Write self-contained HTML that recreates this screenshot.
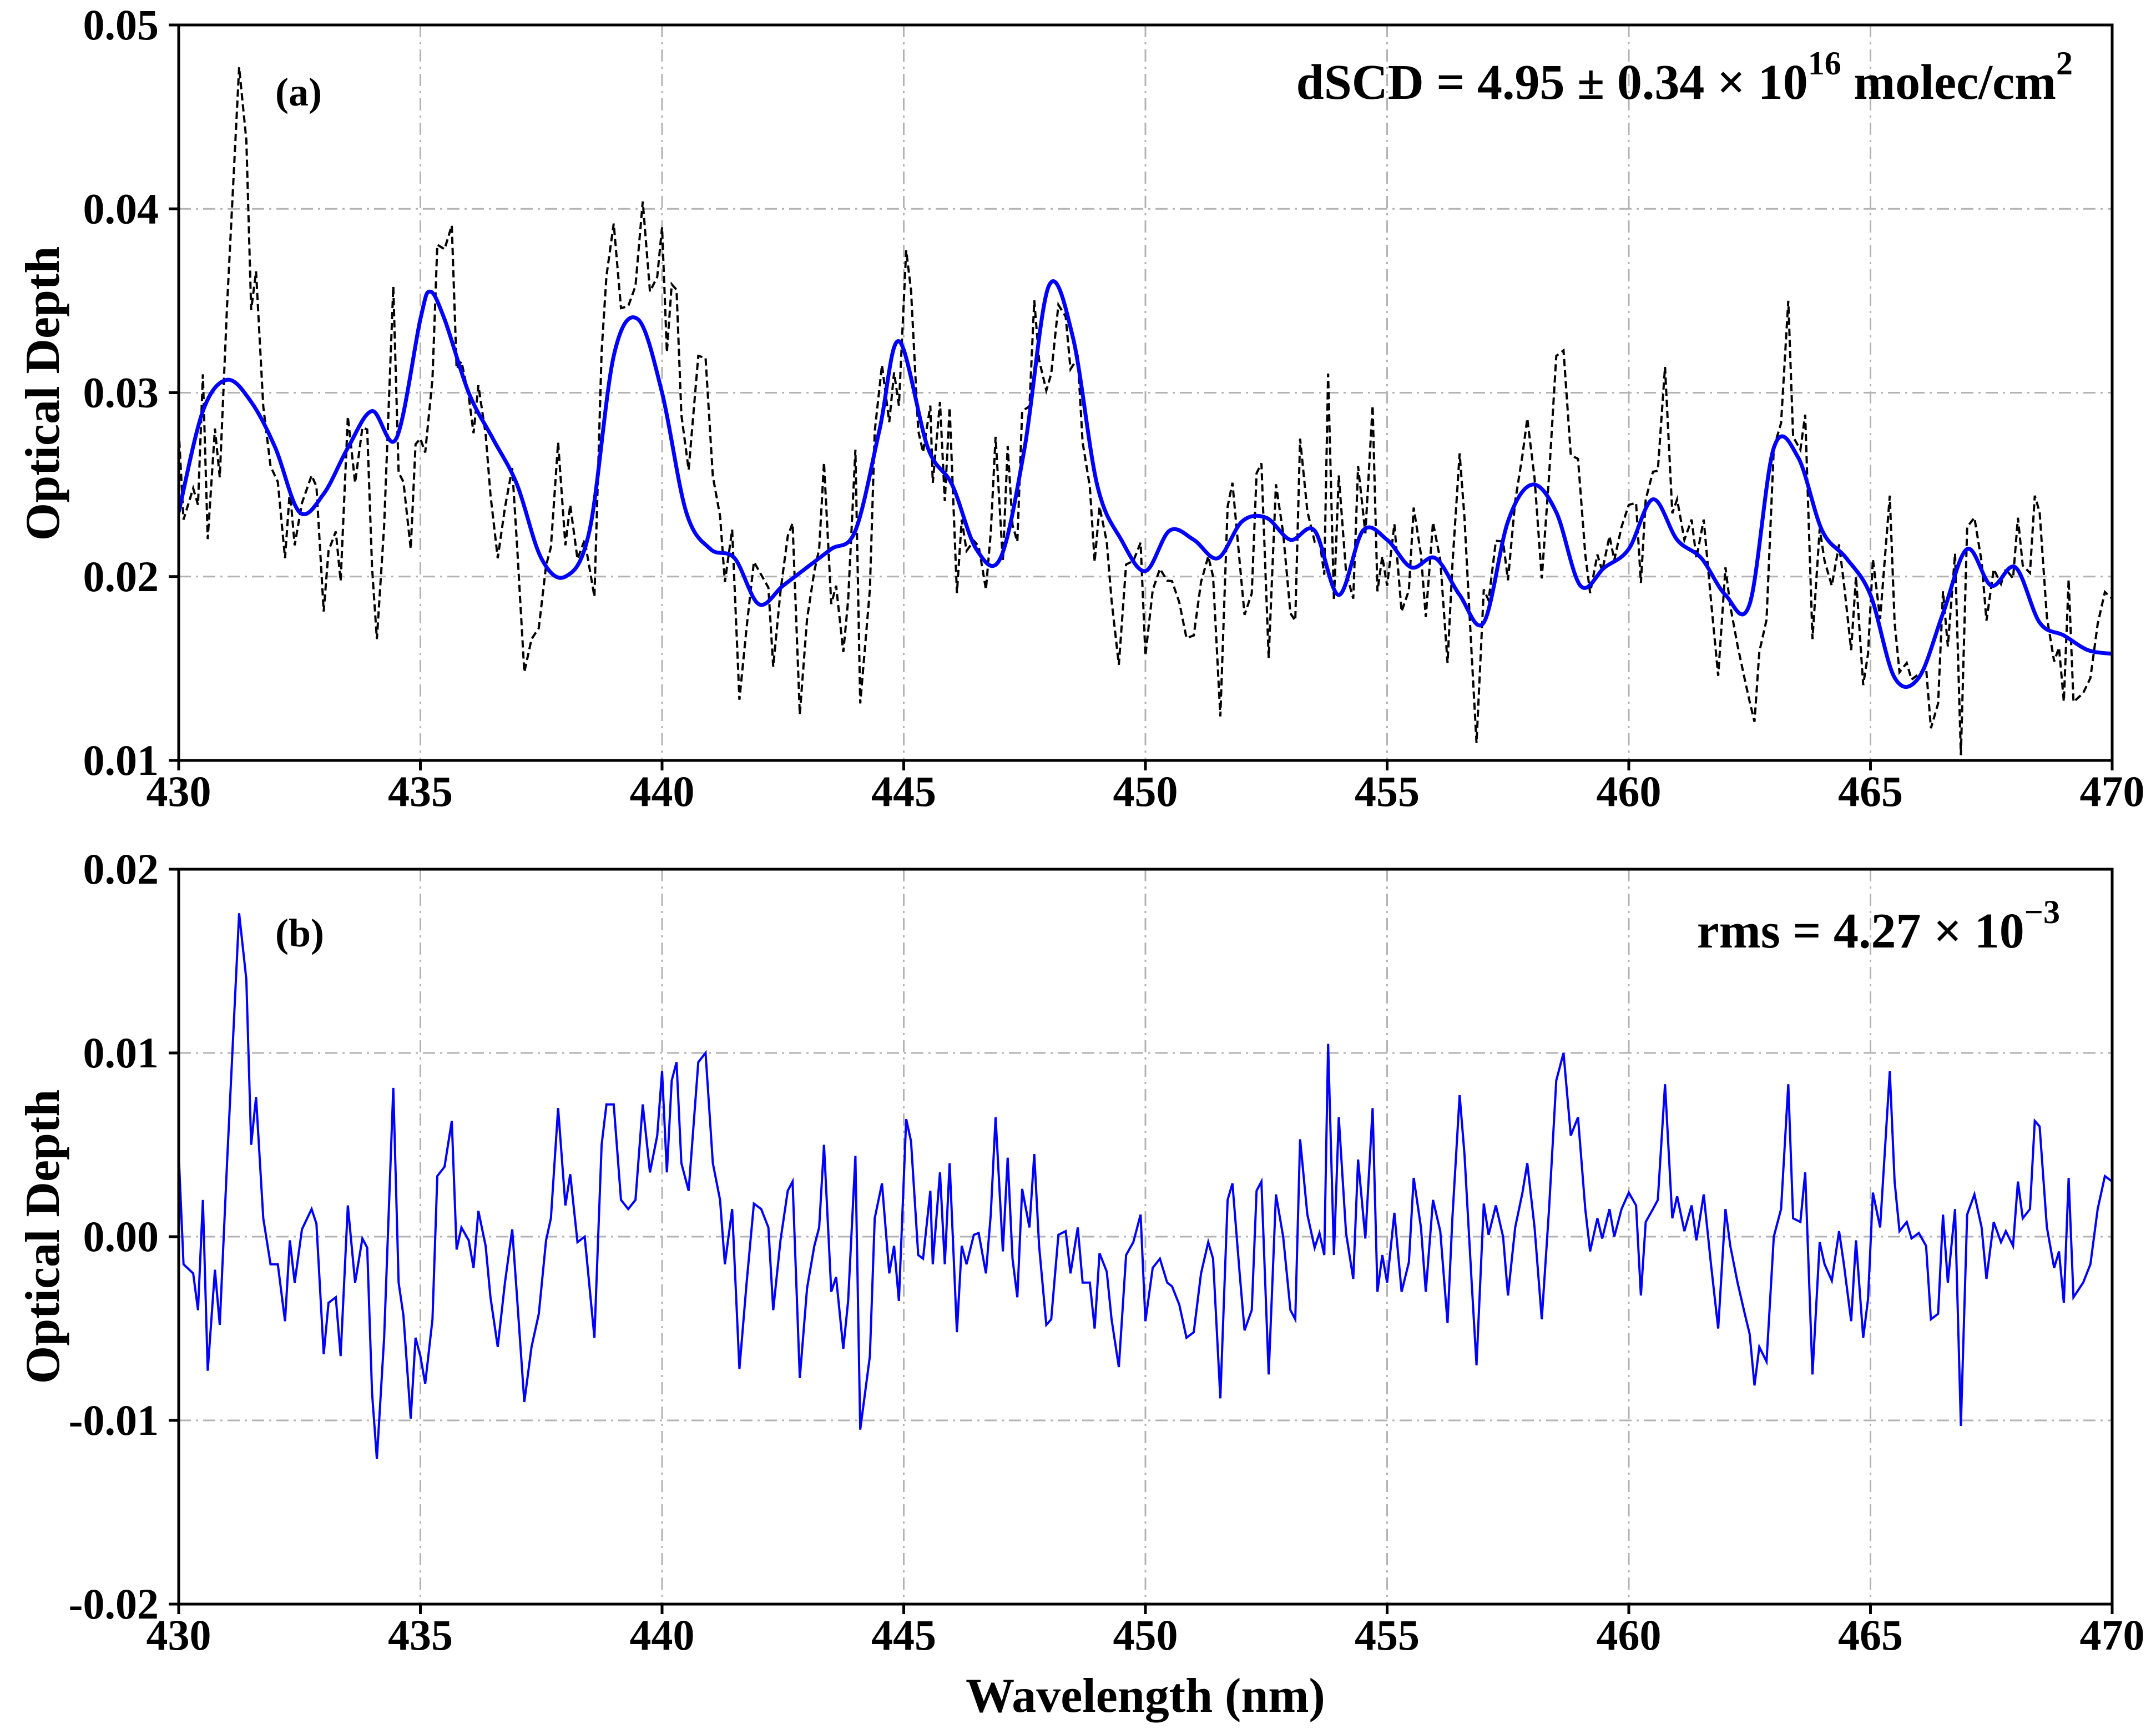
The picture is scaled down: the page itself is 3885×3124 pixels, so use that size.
<!DOCTYPE html>
<html><head><meta charset="utf-8"><style>html,body{margin:0;padding:0;background:#fff}svg{display:block}text{font-family:"Liberation Serif",serif;font-weight:bold;fill:#000}</style></head>
<body>
<svg id="chart" width="3885" height="3124" viewBox="0 0 3885 3124" xmlns="http://www.w3.org/2000/svg">
<g id="gA"></g>
<g id="gB"></g>
<text x="496" y="190" font-size="72">(a)</text>
<text x="3735" y="178" font-size="90" text-anchor="end">dSCD = 4.95 ± 0.34 × 10<tspan dy="-44" font-size="60">16</tspan><tspan dy="44"> molec/cm</tspan><tspan dy="-44" font-size="60">2</tspan></text>
<text x="496" y="1705" font-size="72">(b)</text>
<text x="3712" y="1707" font-size="90" text-anchor="end">rms = 4.27 × 10<tspan dy="-44" font-size="60">−3</tspan></text>
<text transform="translate(106,709) rotate(-90)" font-size="88" text-anchor="middle">Optical Depth</text>
<text transform="translate(106,2228) rotate(-90)" font-size="88" text-anchor="middle">Optical Depth</text>
<text x="2064" y="3084" font-size="88" text-anchor="middle">Wavelength (nm)</text>
</svg>
<script>
const fitWl=[430,430.5,431,431.5,432,432.5,433,433.5,434,434.5,435,435.2,435.5,436,436.5,437,437.5,438,438.5,439,439.5,440,440.5,441,441.5,442,442.5,443,443.5,444,444.5,444.9,445.5,446,446.5,447,447.5,448,448.5,449,449.5,450,450.5,451,451.5,452,452.5,453,453.5,454,454.5,455,455.5,456,456.5,457,457.5,458,458.5,459,459.5,460,460.5,461,461.5,462,462.5,463,463.5,464,464.5,465,465.5,466,466.5,467,467.5,468,468.5,469,469.5,470];
const fitVal=[0.0235,0.029,0.0307,0.0295,0.027,0.0235,0.0245,0.027,0.029,0.0275,0.034,0.0355,0.034,0.030,0.0275,0.025,0.021,0.020,0.0225,0.032,0.034,0.030,0.0235,0.0215,0.021,0.0185,0.0195,0.0205,0.0215,0.0225,0.028,0.0328,0.027,0.025,0.0215,0.021,0.027,0.0358,0.033,0.025,0.022,0.0203,0.0225,0.022,0.021,0.023,0.0232,0.022,0.0225,0.019,0.0225,0.022,0.0205,0.021,0.019,0.0175,0.023,0.025,0.0235,0.0195,0.0205,0.0215,0.0242,0.022,0.021,0.019,0.0185,0.027,0.0265,0.0225,0.021,0.019,0.0145,0.0145,0.018,0.0215,0.0195,0.0205,0.0175,0.0168,0.016,0.0158];
const resWl=[430.0,430.1,430.3,430.4,430.5,430.6,430.75,430.85,431.0,431.25,431.4,431.5,431.6,431.75,431.9,432.05,432.2,432.3,432.4,432.55,432.75,432.85,433.0,433.1,433.25,433.35,433.5,433.65,433.8,433.9,434.0,434.1,434.25,434.44,434.55,434.65,434.8,434.9,435.0,435.1,435.25,435.35,435.5,435.65,435.75,435.85,436.0,436.1,436.2,436.35,436.45,436.6,436.75,436.9,437.0,437.15,437.3,437.45,437.6,437.7,437.85,438.0,438.1,438.25,438.4,438.6,438.75,438.85,439.0,439.15,439.3,439.45,439.6,439.75,439.9,440.0,440.1,440.2,440.3,440.4,440.55,440.75,440.9,441.05,441.2,441.3,441.45,441.6,441.75,441.9,442.05,442.2,442.3,442.45,442.6,442.7,442.85,443.0,443.15,443.25,443.35,443.5,443.6,443.75,443.85,444.0,444.1,444.3,444.4,444.55,444.7,444.8,444.9,445.05,445.15,445.3,445.4,445.55,445.6,445.75,445.85,445.95,446.1,446.2,446.3,446.45,446.55,446.7,446.8,446.9,447.05,447.15,447.25,447.35,447.45,447.6,447.7,447.8,447.95,448.05,448.2,448.35,448.45,448.6,448.7,448.85,448.95,449.05,449.2,449.3,449.45,449.6,449.75,449.9,450.0,450.15,450.3,450.45,450.55,450.7,450.85,451.0,451.15,451.3,451.4,451.55,451.7,451.8,451.95,452.05,452.2,452.3,452.4,452.55,452.7,452.85,453.0,453.1,453.2,453.35,453.5,453.6,453.7,453.78,453.9,454.0,454.15,454.3,454.4,454.55,454.7,454.8,454.9,455.0,455.15,455.3,455.45,455.55,455.7,455.8,455.95,456.1,456.25,456.35,456.5,456.6,456.75,456.85,457.0,457.1,457.25,457.4,457.5,457.65,457.8,457.9,458.05,458.2,458.35,458.5,458.65,458.8,458.95,459.1,459.2,459.35,459.45,459.6,459.7,459.85,460.0,460.15,460.25,460.35,460.5,460.6,460.75,460.9,461.0,461.15,461.3,461.4,461.55,461.7,461.85,462.0,462.1,462.25,462.4,462.5,462.6,462.7,462.85,463.0,463.15,463.3,463.4,463.55,463.65,463.8,463.95,464.05,464.2,464.35,464.45,464.6,464.7,464.85,464.95,465.05,465.2,465.4,465.5,465.6,465.75,465.85,466.0,466.15,466.25,466.4,466.5,466.6,466.75,466.87,467.0,467.15,467.3,467.4,467.55,467.7,467.8,467.95,468.05,468.15,468.3,468.4,468.5,468.65,468.8,468.9,469.0,469.1,469.2,469.4,469.55,469.7,469.85,470.0];
const resVal=[.0045,-.0015,-.002,-.004,.002,-.0073,-.0018,-.0048,.004,.0176,.014,.005,.0076,.001,-.0015,-.0015,-.0046,-.0002,-.0025,.0004,.0015,.0007,-.0064,-.0036,-.0033,-.0065,.0017,-.0025,-.0001,-.0006,-.0085,-.0121,-.0055,.0081,-.0025,-.0043,-.0099,-.0055,-.0065,-.008,-.0045,.0033,.0038,.0063,-.0007,.0005,-.0002,-.0017,.0014,-.0005,-.0033,-.006,-.0025,.0004,-.0033,-.009,-.006,-.0042,-.0002,.001,.007,.0017,.0034,-.0003,0,-.0055,.005,.0072,.0072,.002,.0015,.002,.0072,.0035,.0055,.009,.0035,.0085,.0095,.004,.0025,.0095,.010,.004,.002,-.0015,.0015,-.0072,-.0025,.0018,.0015,.0005,-.004,-.0002,.0025,.003,-.0077,-.0028,-.0005,.0005,.005,-.003,-.0022,-.0061,-.0035,.0044,-.0105,-.0065,.001,.0029,-.002,-.0005,-.0035,.0064,.0052,-.001,-.0012,.0025,-.0015,.0035,-.0015,.004,-.0052,-.0005,-.0015,.0001,.0002,-.002,.0012,.0065,-.0008,.0043,-.0012,-.0033,.0026,.0005,.0045,-.0005,-.0048,-.0045,.0001,.0003,-.002,.0005,-.0025,-.0025,-.005,-.0009,-.0019,-.0045,-.0071,-.001,-.0003,.0012,-.0046,-.0017,-.0012,-.0025,-.0027,-.0037,-.0055,-.0052,-.002,-.0003,-.0012,-.0088,.002,.0029,-.002,-.0051,-.004,.0025,.003,-.0075,.0023,0,-.004,-.0045,.0053,.0012,-.0006,.0002,-.001,.0105,-.001,.0065,.0002,-.0023,.0042,-.0001,.007,-.003,-.001,-.0025,.0013,-.003,-.0014,.0032,.0005,-.003,.002,.0003,-.0047,.001,.0077,.0045,-.0025,-.007,.0018,.0001,.0017,0,-.0032,.0005,.0024,.004,.0005,-.0045,.0015,.0085,.010,.0055,.0065,.0015,-.0008,.001,-.0001,.0015,0,.0015,.0024,.0017,-.0032,.0008,.0015,.002,.0083,.001,.0022,.0003,.0017,-.0002,.0023,-.0015,-.005,.0015,-.0005,-.0025,-.0042,-.0053,-.0081,-.006,-.0068,0,.0015,.0083,.001,.0008,.0035,-.0075,-.0003,-.0015,-.0024,.0003,-.0015,-.0046,-.0002,-.0055,-.0034,.0024,.0005,.009,.003,.0003,.0008,-.0001,.0002,-.0005,-.0045,-.0042,.0012,-.0025,.0015,-.0103,.0012,.0023,.0005,-.0023,.0008,-.0003,.0003,-.0005,.003,.001,.0015,.0063,.006,.0005,-.0017,-.0008,-.0036,.0032,-.0033,-.0025,-.0015,.0015,.0033,.003];
const xTicks=[430,435,440,445,450,455,460,465,470];
const yTicksA=[0.01,0.02,0.03,0.04,0.05];
const yLabelsA=["0.01","0.02","0.03","0.04","0.05"];
const yTicksB=[-0.02,-0.01,0,0.01,0.02];
const yLabelsB=["-0.02","-0.01","0.00","0.01","0.02"];

const NS="http://www.w3.org/2000/svg";
const L=322,R=3806;
const PA={top:45,bot:1370,min:0.01,max:0.05};
const PB={top:1566,bot:2890,min:-0.02,max:0.02};
const xs=w=>L+(w-430)/40*(R-L);
const ysF=p=>v=>p.bot-(v-p.min)/(p.max-p.min)*(p.bot-p.top);
function mk(tag,attrs,parent){const e=document.createElementNS(NS,tag);for(const k in attrs)e.setAttribute(k,attrs[k]);parent.appendChild(e);return e;}
function fitAt(w){for(let i=0;i<fitWl.length-1;i++){if(w<=fitWl[i+1]){const t=(w-fitWl[i])/(fitWl[i+1]-fitWl[i]);return fitVal[i]+t*(fitVal[i+1]-fitVal[i]);}}return fitVal[fitVal.length-1];}
function smoothPath(pts){let d="M"+pts[0][0]+","+pts[0][1];for(let i=0;i<pts.length-1;i++){const p0=pts[Math.max(0,i-1)],p1=pts[i],p2=pts[i+1],p3=pts[Math.min(pts.length-1,i+2)];const c1=[p1[0]+(p2[0]-p0[0])/6,p1[1]+(p2[1]-p0[1])/6],c2=[p2[0]-(p3[0]-p1[0])/6,p2[1]-(p3[1]-p1[1])/6];d+=" C"+c1[0].toFixed(1)+","+c1[1].toFixed(1)+" "+c2[0].toFixed(1)+","+c2[1].toFixed(1)+" "+p2[0].toFixed(1)+","+p2[1].toFixed(1);}return d;}

function axes(g,P,yt,yl,tag){
  const ys=ysF(P);
  const clipId="clip"+tag;
  const cp=mk("clipPath",{id:clipId},g);mk("rect",{x:L,y:P.top,width:R-L,height:P.bot-P.top},cp);
  xTicks.forEach((t,i)=>{
    if(i>0&&i<xTicks.length-1){const gl=mk("line",{x1:xs(t),x2:xs(t),y1:P.top,y2:P.bot,stroke:"#b3b3b3","stroke-width":3,"stroke-dasharray":"22,9,4,9"},g);
      
      }
    const tk=mk("line",{x1:xs(t),x2:xs(t),y1:P.bot,y2:P.bot+18,stroke:"#000","stroke-width":5},g);
    
    
    const tx=mk("text",{x:xs(t),y:P.bot+82,"font-size":78,"text-anchor":"middle"},g);tx.textContent=t;
    
    
  });
  yt.forEach((t,i)=>{
    if(i>0&&i<yt.length-1){const gl=mk("line",{x1:L,x2:R,y1:ys(t),y2:ys(t),stroke:"#b3b3b3","stroke-width":3,"stroke-dasharray":"22,9,4,9"},g);
      
      }
    const tk=mk("line",{x1:L-18,x2:L,y1:ys(t),y2:ys(t),stroke:"#000","stroke-width":5},g);
    
    
    const tx=mk("text",{x:L-36,y:ys(t)+26,"font-size":78,"text-anchor":"end"},g);tx.textContent=yl[i];
    
    
  });
  return {ys,clip:"url(#"+clipId+")"};
}
const gA=document.getElementById("gA"),gB=document.getElementById("gB");
const a=axes(gA,PA,yTicksA,yLabelsA,"A");
const measPts=resWl.map((w,i)=>xs(w).toFixed(1)+","+a.ys(fitAt(w)+resVal[i]).toFixed(1)).join(" ");
const meas=mk("polyline",{points:measPts,fill:"none",stroke:"#000","stroke-width":4,"stroke-dasharray":"13,7","clip-path":a.clip},gA);


const fitPath=mk("path",{d:smoothPath(fitWl.map((w,i)=>[xs(w),a.ys(fitVal[i])])),fill:"none",stroke:"#0000ff","stroke-width":7,"clip-path":a.clip},gA);


const fa=mk("rect",{x:L,y:PA.top,width:R-L,height:PA.bot-PA.top,fill:"none",stroke:"#000","stroke-width":5},gA);



const b=axes(gB,PB,yTicksB,yLabelsB,"B");
const resLine=mk("polyline",{points:resWl.map((w,i)=>xs(w).toFixed(1)+","+b.ys(resVal[i]).toFixed(1)).join(" "),fill:"none",stroke:"#0000ff","stroke-width":4,"clip-path":b.clip},gB);


const fb=mk("rect",{x:L,y:PB.top,width:R-L,height:PB.bot-PB.top,fill:"none",stroke:"#000","stroke-width":5},gB);


</script>
</body></html>
